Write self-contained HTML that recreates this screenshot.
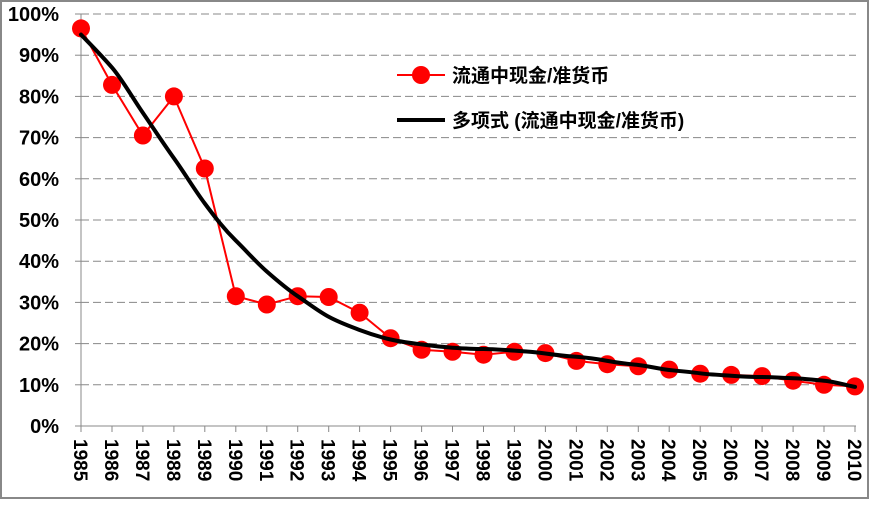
<!DOCTYPE html>
<html><head><meta charset="utf-8"><style>html,body{margin:0;padding:0;background:#fff}</style></head>
<body>
<svg width="870" height="500" xmlns="http://www.w3.org/2000/svg" font-family="Liberation Sans, sans-serif" font-weight="bold">
<rect x="1" y="1" width="867" height="497" fill="#fff" stroke="#888" stroke-width="2"/>
<g stroke="#888" stroke-width="1" stroke-dasharray="8,4">
<line x1="81" y1="384.8" x2="856" y2="384.8"/>
<line x1="81" y1="343.6" x2="856" y2="343.6"/>
<line x1="81" y1="302.4" x2="856" y2="302.4"/>
<line x1="81" y1="261.2" x2="856" y2="261.2"/>
<line x1="81" y1="220" x2="856" y2="220"/>
<line x1="81" y1="178.8" x2="856" y2="178.8"/>
<line x1="81" y1="137.6" x2="856" y2="137.6"/>
<line x1="81" y1="96.4" x2="856" y2="96.4"/>
<line x1="81" y1="55.2" x2="856" y2="55.2"/>
<line x1="81" y1="14" x2="856" y2="14"/>
</g>
<g stroke="#888" stroke-width="1">
<line x1="81" y1="14" x2="81" y2="426"/>
<line x1="75" y1="426" x2="856" y2="426"/>
<line x1="75" y1="384.8" x2="81" y2="384.8"/><line x1="75" y1="343.6" x2="81" y2="343.6"/><line x1="75" y1="302.4" x2="81" y2="302.4"/><line x1="75" y1="261.2" x2="81" y2="261.2"/><line x1="75" y1="220" x2="81" y2="220"/><line x1="75" y1="178.8" x2="81" y2="178.8"/><line x1="75" y1="137.6" x2="81" y2="137.6"/><line x1="75" y1="96.4" x2="81" y2="96.4"/><line x1="75" y1="55.2" x2="81" y2="55.2"/><line x1="75" y1="14" x2="81" y2="14"/>
<path d="M81,426v6 M112,426v6 M142.9,426v6 M173.9,426v6 M204.8,426v6 M235.8,426v6 M266.8,426v6 M297.7,426v6 M328.7,426v6 M359.6,426v6 M390.6,426v6 M421.6,426v6 M452.5,426v6 M483.5,426v6 M514.4,426v6 M545.4,426v6 M576.4,426v6 M607.3,426v6 M638.3,426v6 M669.2,426v6 M700.2,426v6 M731.2,426v6 M762.1,426v6 M793.1,426v6 M824,426v6 M855,426v6"/>
</g>
<g font-size="20" text-anchor="end">
<text x="59" y="433">0%</text><text x="59" y="391.8">10%</text><text x="59" y="350.6">20%</text><text x="59" y="309.4">30%</text><text x="59" y="268.2">40%</text><text x="59" y="227">50%</text><text x="59" y="185.8">60%</text><text x="59" y="144.6">70%</text><text x="59" y="103.4">80%</text><text x="59" y="62.2">90%</text><text x="59" y="21">100%</text>
</g>
<g font-size="19">
<text transform="translate(74,439) rotate(90)">1985</text>
<text transform="translate(105,439) rotate(90)">1986</text>
<text transform="translate(135.9,439) rotate(90)">1987</text>
<text transform="translate(166.9,439) rotate(90)">1988</text>
<text transform="translate(197.8,439) rotate(90)">1989</text>
<text transform="translate(228.8,439) rotate(90)">1990</text>
<text transform="translate(259.8,439) rotate(90)">1991</text>
<text transform="translate(290.7,439) rotate(90)">1992</text>
<text transform="translate(321.7,439) rotate(90)">1993</text>
<text transform="translate(352.6,439) rotate(90)">1994</text>
<text transform="translate(383.6,439) rotate(90)">1995</text>
<text transform="translate(414.6,439) rotate(90)">1996</text>
<text transform="translate(445.5,439) rotate(90)">1997</text>
<text transform="translate(476.5,439) rotate(90)">1998</text>
<text transform="translate(507.4,439) rotate(90)">1999</text>
<text transform="translate(538.4,439) rotate(90)">2000</text>
<text transform="translate(569.4,439) rotate(90)">2001</text>
<text transform="translate(600.3,439) rotate(90)">2002</text>
<text transform="translate(631.3,439) rotate(90)">2003</text>
<text transform="translate(662.2,439) rotate(90)">2004</text>
<text transform="translate(693.2,439) rotate(90)">2005</text>
<text transform="translate(724.2,439) rotate(90)">2006</text>
<text transform="translate(755.1,439) rotate(90)">2007</text>
<text transform="translate(786.1,439) rotate(90)">2008</text>
<text transform="translate(817,439) rotate(90)">2009</text>
<text transform="translate(848,439) rotate(90)">2010</text>
</g>
<polyline fill="none" stroke="#f00" stroke-width="2" points="81,28.4 112,84.9 142.9,135.5 173.9,96.4 204.8,168.5 235.8,296.2 266.8,304.5 297.7,296.2 328.7,297 359.6,312.7 390.6,338.2 421.6,349.8 452.5,351.8 483.5,354.7 514.4,351.8 545.4,353.1 576.4,360.9 607.3,364.2 638.3,366.3 669.2,369.6 700.2,373.7 731.2,374.9 762.1,376.1 793.1,380.7 824,384.8 855,386.4"/>
<g fill="#f00">
<circle cx="81" cy="28.4" r="9"/><circle cx="112" cy="84.9" r="9"/><circle cx="142.9" cy="135.5" r="9"/><circle cx="173.9" cy="96.4" r="9"/><circle cx="204.8" cy="168.5" r="9"/><circle cx="235.8" cy="296.2" r="9"/><circle cx="266.8" cy="304.5" r="9"/><circle cx="297.7" cy="296.2" r="9"/><circle cx="328.7" cy="297" r="9"/><circle cx="359.6" cy="312.7" r="9"/><circle cx="390.6" cy="338.2" r="9"/><circle cx="421.6" cy="349.8" r="9"/><circle cx="452.5" cy="351.8" r="9"/><circle cx="483.5" cy="354.7" r="9"/><circle cx="514.4" cy="351.8" r="9"/><circle cx="545.4" cy="353.1" r="9"/><circle cx="576.4" cy="360.9" r="9"/><circle cx="607.3" cy="364.2" r="9"/><circle cx="638.3" cy="366.3" r="9"/><circle cx="669.2" cy="369.6" r="9"/><circle cx="700.2" cy="373.7" r="9"/><circle cx="731.2" cy="374.9" r="9"/><circle cx="762.1" cy="376.1" r="9"/><circle cx="793.1" cy="380.7" r="9"/><circle cx="824" cy="384.8" r="9"/><circle cx="855" cy="386.4" r="9"/>
</g>
<path fill="none" stroke="#000" stroke-width="4" stroke-linejoin="round" stroke-linecap="round" d="M81,34.6 C91,45 102,56 112,67.6 S132,97 142.9,112.9 S163,143 173.9,158.2 S194,189 204.8,203.5 S224,229 235.8,240.6 S256,262 266.8,271.5 S287,289 297.7,296.2 S318,311 328.7,316.8 S349,326 359.6,330 S380,337 390.6,339.5 S411,343 421.6,344.4 S442,347 452.5,347.7 S473,349 483.5,349 S504,350 514.4,350.6 S535,352 545.4,353.5 S566,356 576.4,356.8 S597,359 607.3,360.9 S628,364 638.3,365 S659,369 669.2,370 S690,372 700.2,373.3 S721,375 731.2,375.7 S752,377 762.1,377 S783,378 793.1,378.2 S814,380 824,380.7 S845,385 855,386.9"/>
<g font-size="19" font-family="Liberation Sans, 'Noto Sans CJK SC', sans-serif" font-weight="bold">
<line x1="397" y1="75" x2="445" y2="75" stroke="#f00" stroke-width="2"/>
<circle cx="421" cy="75" r="9" fill="#f00"/>
<text x="452" y="82">流通中现金/准货币</text>
<line x1="397" y1="120" x2="445" y2="120" stroke="#000" stroke-width="4"/>
<text x="452" y="127">多项式 (流通中现金/准货币)</text>
</g>
</svg>
</body></html>
